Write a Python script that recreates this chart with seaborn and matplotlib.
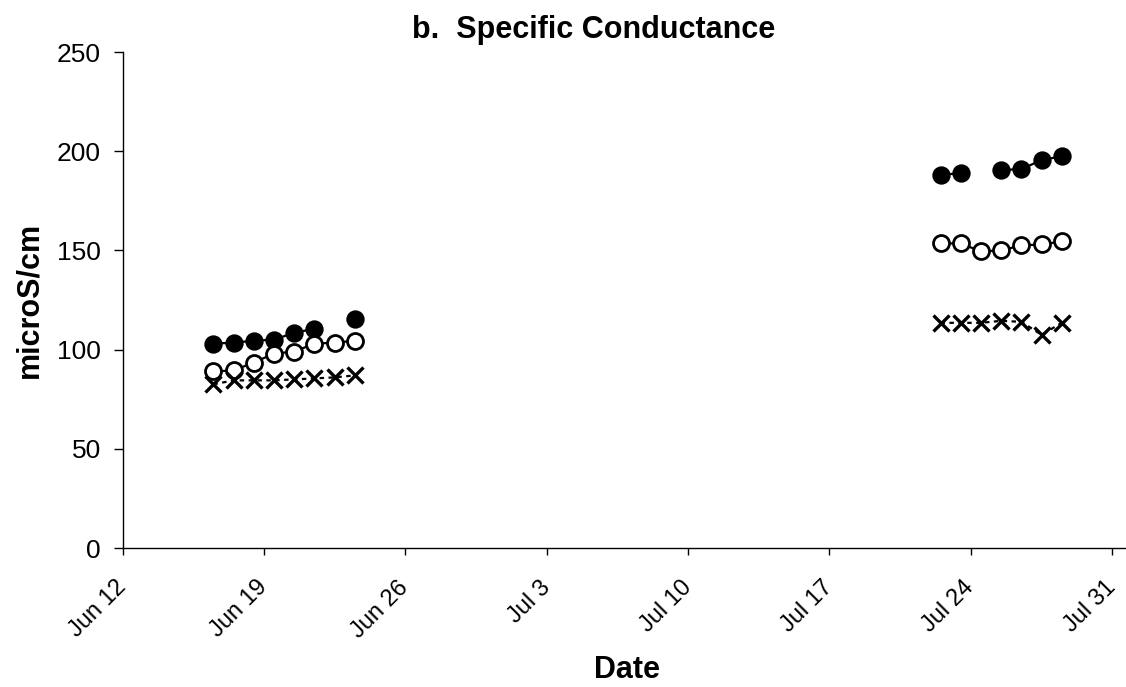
import pandas as pd
import numpy as np
import matplotlib
matplotlib.use('Agg')
import matplotlib.pyplot as plt
import matplotlib.dates as mdates
from matplotlib.ticker import FuncFormatter
import seaborn as sns

# sampling dates (readings taken around midday)
dates_jun = ['2004-06-%02d 12:00' % d for d in [16, 17, 18, 19, 20, 21, 22, 23]]
dates_jul = ['2004-07-%02d 12:00' % d for d in [22, 23, 24, 25, 26, 27, 28]]

# specific conductance, microS/cm (NaN = no reading)
filled_jun = [103, 103.5, 104.5, 105, 108.5, 110.5, np.nan, 115.5]
filled_jul = [188, 189, np.nan, 190.5, 191, 195.5, 197.5]

open_jun = [89, 89.5, 93.5, 98, 99, 103, 103.5, 104.5]
open_jul = [153.5, 153.5, 149.5, 150, 152.5, 153, 154.5]

cross_jun = [82.5, 84.5, 84.5, 84.5, 85, 85.5, 86, 87]
cross_jul = [113.5, 113.5, 113.5, 114.5, 114, 107.5, 113.5]

series_names = ['filled', 'open', 'cross']

rows = []
for name, jun, jul in zip(series_names,
                          [filled_jun, open_jun, cross_jun],
                          [filled_jul, open_jul, cross_jul]):
    for d, v in zip(dates_jun + dates_jul, jun + jul):
        rows.append({'series': name, 'date': pd.Timestamp(d), 'value': v})
df = pd.DataFrame(rows)

# break lines at missing readings and at the gap between the two trips
parts = []
for name, sub in df.groupby('series', sort=False):
    sub = sub.sort_values('date').copy()
    brk = sub['value'].isna() | (sub['date'].diff() > pd.Timedelta(days=1.5))
    sub['seg'] = brk.cumsum()
    parts.append(sub.dropna(subset=['value']))
df = pd.concat(parts)

sns.set_style('ticks')
plt.rcParams['font.family'] = ['Liberation Sans', 'DejaVu Sans']
plt.rcParams['text.color'] = 'black'
plt.rcParams['axes.labelcolor'] = 'black'

fig = plt.figure(figsize=(11.26, 6.87), dpi=100)
ax = fig.add_axes([0.1088, 0.2023, 0.8912, 0.7220])

styles = {
    'filled': dict(marker='o', markerfacecolor='black', markersize=12,
                   markeredgewidth=1.2, linestyle='-'),
    'open': dict(marker='o', markerfacecolor='white', markersize=11.5,
                 markeredgewidth=2, linestyle='-'),
    'cross': dict(marker='x', markersize=12, markeredgewidth=2.4,
                  linestyle=(0, (2, 2))),
}

for name in series_names:
    sns.lineplot(data=df[df['series'] == name], x='date', y='value',
                 units='seg', estimator=None, color='black', linewidth=1.6,
                 markeredgecolor='black', legend=False, ax=ax,
                 **styles[name])

x0 = pd.Timestamp('2004-06-12')
ax.set_xlim(x0, x0 + pd.Timedelta(days=49.68))
ax.set_ylim(0, 250)
ax.set_yticks(range(0, 251, 50))
ticks = pd.date_range(x0, periods=8, freq='7D')
ax.set_xticks(ticks)
ax.xaxis.set_major_formatter(FuncFormatter(
    lambda v, p: '%s %d' % (mdates.num2date(v).strftime('%b'), mdates.num2date(v).day)))

for lab in ax.get_xticklabels():
    lab.set_rotation(45)
    lab.set_ha('right')
    lab.set_va('center')
    lab.set_rotation_mode('anchor')

ax.tick_params(axis='x', labelsize=17, length=5, width=1, pad=21, colors='black')
ax.tick_params(axis='y', labelsize=19, length=6.5, width=1, pad=9, colors='black')

sns.despine(ax=ax)
for s in ['left', 'bottom']:
    ax.spines[s].set_color('black')
    ax.spines[s].set_linewidth(1)

ax.set_title('b.  Specific Conductance', fontsize=22, fontweight='bold',
             x=0.469, y=1.028, pad=0, color='black')
ax.set_ylabel('microS/cm', fontsize=22, fontweight='bold', labelpad=9)
ax.set_xlabel('Date', fontsize=22, fontweight='bold')
ax.xaxis.set_label_coords(0.503, -0.215)

fig.savefig('out.png', dpi=100)
